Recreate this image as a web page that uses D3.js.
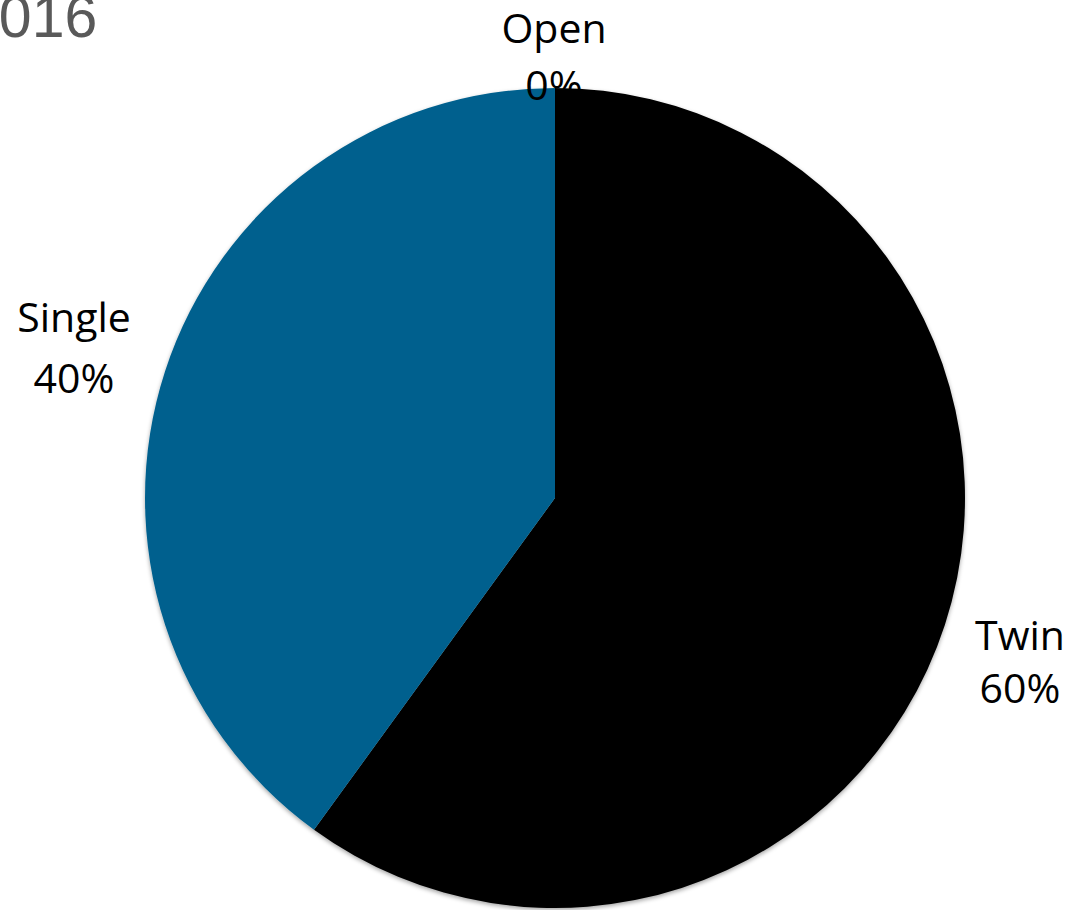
<!DOCTYPE html>
<html>
<head>
<meta charset="utf-8">
<script src="https://cdn.jsdelivr.net/npm/d3@7"></script>
<style>
  html, body { margin: 0; padding: 0; background: #fff; overflow: hidden; }
  svg { display: block; }
</style>
</head>
<body>
<svg id="chart" width="1071" height="910"></svg>
<script>
// Room type share
const categories = ["Twin", "Single", "Open"];
const values = [60, 40, 0];
const sliceColors = ["#000000", "#00618e", "#7f7f7f"];
const titleText = "2016";

// Label placement (line 1 = name, line 2 = percent), in page pixels
const labelLayout = {
  Twin:   { x: 1020, y1: 650, y2: 703 },
  Single: { x: 74,   y1: 332, y2: 393 },
  Open:   { x: 554,  y1: 43,  y2: 100 }
};

const svg = d3.select("#chart");
const cx = 555, cy = 498, radius = 410;

const defs = svg.append("defs");
const shadow = defs.append("filter").attr("id", "pieShadow")
  .attr("x", "-10%").attr("y", "-10%").attr("width", "120%").attr("height", "120%");
shadow.append("feDropShadow")
  .attr("dx", 0).attr("dy", 2).attr("stdDeviation", 2)
  .attr("flood-color", "#000").attr("flood-opacity", 0.35);

const pie = d3.pie().sort(null).value(d => d.value);
const arc = d3.arc().innerRadius(0).outerRadius(radius);
const data = categories.map((c, i) => ({ name: c, value: values[i], color: sliceColors[i] }));

const g = svg.append("g").attr("transform", `translate(${cx},${cy})`)
  .attr("filter", "url(#pieShadow)");
g.selectAll("path")
  .data(pie(data).filter(d => d.data.value > 0))
  .join("path")
  .attr("d", arc)
  .attr("fill", d => d.data.color);

// Title (left part runs off the page edge)
svg.append("text")
  .attr("x", -34).attr("y", 37)
  .attr("font-family", "'Liberation Sans', Arial, sans-serif")
  .attr("font-size", 59)
  .attr("fill", "#595959")
  .text(titleText);

// Category labels
const total = d3.sum(values);
const labels = svg.append("g")
  .attr("font-family", "'Open Sans', sans-serif")
  .attr("font-size", 41)
  .attr("fill", "#000")
  .attr("text-anchor", "middle");
data.forEach(d => {
  const p = labelLayout[d.name];
  labels.append("text").attr("x", p.x).attr("y", p.y1).text(d.name);
  labels.append("text").attr("x", p.x).attr("y", p.y2)
    .text(Math.round(d.value / total * 100) + "%");
});
</script>
</body>
</html>
